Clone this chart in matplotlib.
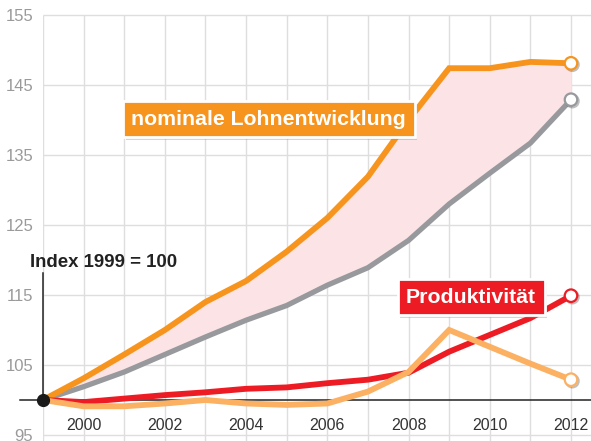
import matplotlib
matplotlib.use("Agg")
import matplotlib.pyplot as plt
import matplotlib.patheffects as pe
import numpy as np

years = np.arange(1999, 2013)
nominal = [100, 103.1, 106.5, 110.0, 114.0, 117.0, 121.2, 126.0, 131.9, 140.0, 147.4, 147.4, 148.3, 148.1]
grey = [100, 101.9, 104.0, 106.5, 109.0, 111.4, 113.5, 116.4, 118.9, 122.8, 128.0, 132.4, 136.7, 142.9]
produktiv = [100, 99.7, 100.2, 100.7, 101.1, 101.6, 101.8, 102.4, 102.9, 103.9, 106.9, 109.3, 111.7, 114.9]
light = [100, 99.1, 99.1, 99.5, 100.0, 99.5, 99.3, 99.5, 101.2, 104.0, 110.0, 107.6, 105.2, 102.9]
ytick_vals = [95, 105, 115, 125, 135, 145, 155]
xtick_vals = [2000, 2002, 2004, 2006, 2008, 2010, 2012]

C_OR = "#F7941D"
C_GR = "#98999D"
C_RED = "#ED1C24"
C_LO = "#FBB062"
C_FILL = "#FCE4E6"

W, H = 591, 441
fig = plt.figure(figsize=(W/100, H/100), dpi=100)
ax = fig.add_axes([43/W, 0, (W-43)/W, 1])
pxy = (571-43)/13.0
ax.set_xlim(1999, 1999 + (W-43)/pxy)
ax.set_ylim(95 - 6/7, 155 + 15/7)
for s in ax.spines.values():
    s.set_visible(False)

gridc = "#DEDEDE"
ax.hlines(ytick_vals, 1999, ax.get_xlim()[1], color=gridc, lw=1.0, zorder=0)
ax.vlines(years, ax.get_ylim()[0], 155, color=gridc, lw=1.0, zorder=0)

ax.set_yticks(ytick_vals)
ax.set_yticklabels([str(v) for v in ytick_vals])
ax.tick_params(axis='y', length=0, pad=7, labelsize=12, labelcolor="#9A9A9A")
for lab in ax.get_yticklabels():
    lab.set_family("Liberation Sans")
ax.set_xticks([])

for xv in xtick_vals:
    ax.text(xv, 96.35, str(xv), ha='center', va='center', fontsize=11.5,
            color="#333333", family="Liberation Sans")

ax.fill_between(years, grey, nominal, color=C_FILL, zorder=1, lw=0)

# axes lines
ax.plot([1999 - 23/pxy, ax.get_xlim()[1]], [100, 100], color="#222222", lw=1.1, zorder=2, clip_on=False)
ax.plot([1999, 1999], [100, 118.1], color="#222222", lw=1.1, zorder=2, clip_on=False)

ax.plot(years, grey, color=C_GR, lw=3.8, zorder=3, solid_capstyle='butt', solid_joinstyle='miter')
ax.plot(years, nominal, color=C_OR, lw=4.2, zorder=4, solid_capstyle='butt', solid_joinstyle='miter')
ax.plot(years, produktiv, color=C_RED, lw=4.2, zorder=5, solid_capstyle='butt', solid_joinstyle='miter')
ax.plot(years, light, color=C_LO, lw=4.2, zorder=6, solid_capstyle='butt', solid_joinstyle='miter')

for series, col in [(grey, C_GR), (nominal, C_OR), (produktiv, C_RED), (light, C_LO)]:
    ax.plot(years[-1], series[-1], 'o', ms=9, mfc='white', mec=col, mew=1.6, zorder=8, clip_on=False,
            path_effects=[pe.SimpleLineShadow(offset=(1, -1), alpha=0.25), pe.Normal()])

ax.plot(1999, 100, 'o', ms=8.5, color="#1A1A1A", zorder=9, clip_on=False)

ax.text(1998.68, 119.7, "Index 1999 = 100", ha='left', va='center', fontsize=13.4,
        fontweight='bold', color="#222222", family="Liberation Sans", zorder=9)

shadow = [pe.withSimplePatchShadow(offset=(2, -2), shadow_rgbFace='#888888', alpha=0.35)]
t1 = ax.text(2004.56, 140.1, "nominale Lohnentwicklung", ha='center', va='center', fontsize=15.3,
             fontweight='bold', color='white', family="Liberation Sans", zorder=10,
             bbox=dict(boxstyle='square,pad=0.4', fc=C_OR, ec='white', lw=2))
t1.get_bbox_patch().set_path_effects(shadow)
t2 = ax.text(2009.54, 114.7, "Produktivität", ha='center', va='center', fontsize=15.3,
             fontweight='bold', color='white', family="Liberation Sans", zorder=10,
             bbox=dict(boxstyle='square,pad=0.4', fc=C_RED, ec='white', lw=2))
t2.get_bbox_patch().set_path_effects(shadow)

fig.savefig("out.png", dpi=100)
